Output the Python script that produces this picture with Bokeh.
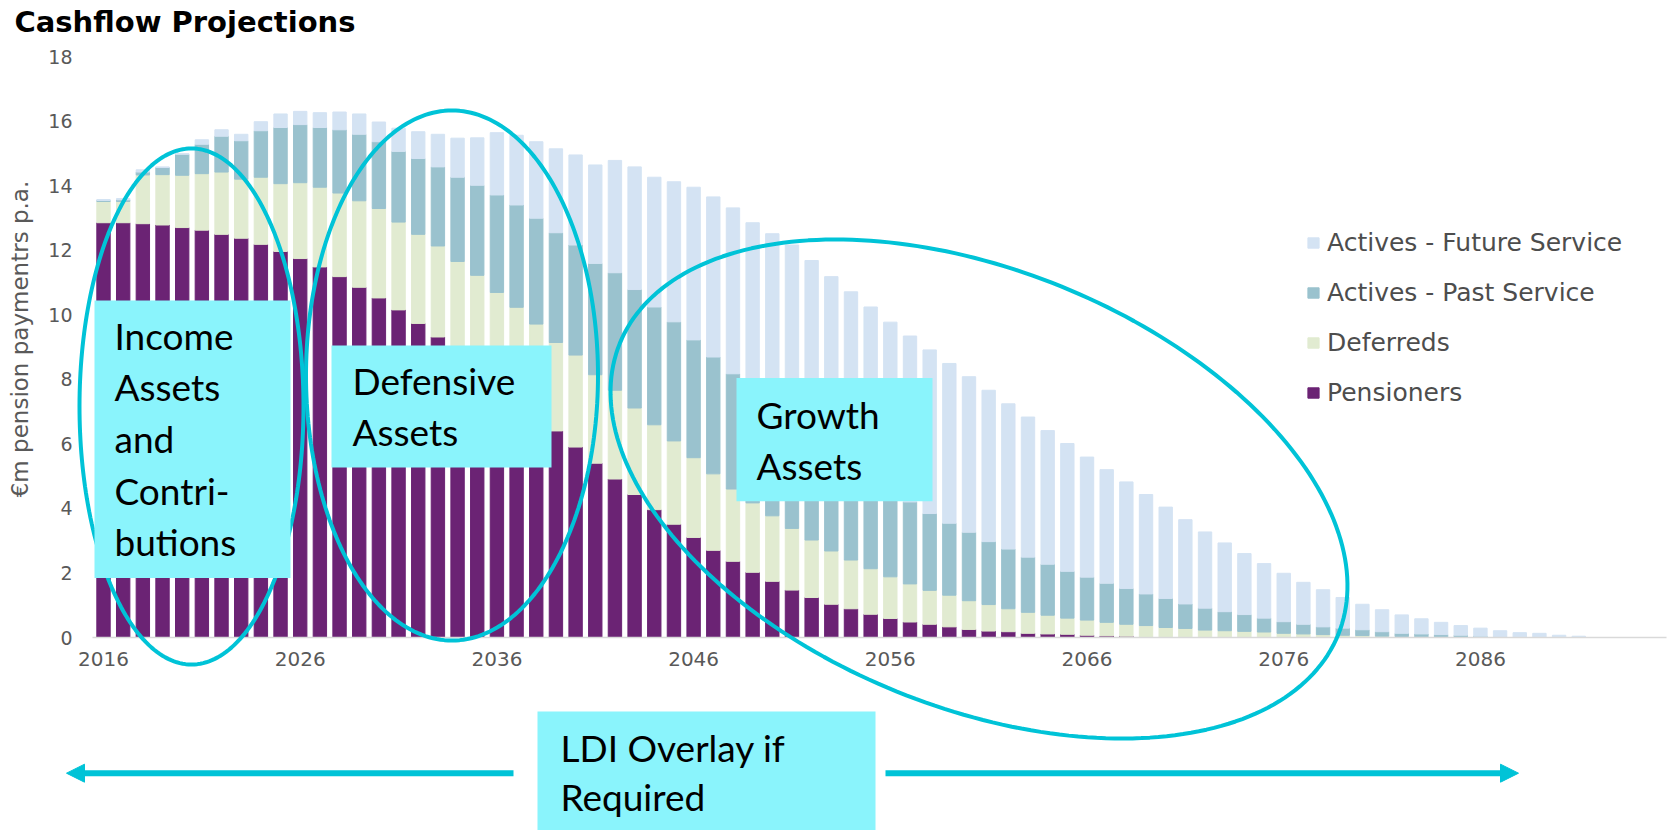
import math
from bokeh.plotting import figure
from bokeh.models import (ColumnDataSource, Range1d, FixedTicker, Legend, LegendItem,
                          Label, PolyAnnotation, Arrow, NormalHead)
from bokeh.embed import file_html
from bokeh.resources import INLINE

# ---------------- data ----------------
years = list(range(2016, 2092))
tick_years = [2016, 2026, 2036, 2046, 2056, 2066, 2076, 2086]
y_ticks = [0, 2, 4, 6, 8, 10, 12, 14, 16, 18]

pensioners = [12.85, 12.85, 12.82, 12.78, 12.70, 12.62, 12.49, 12.37, 12.18, 11.96,
              11.74, 11.48, 11.18, 10.85, 10.52, 10.15, 9.73, 9.31, 8.85, 8.40,
              7.90, 7.40, 6.90, 6.40, 5.90, 5.40, 4.91, 4.43, 3.96, 3.51,
              3.10, 2.70, 2.36, 2.02, 1.74, 1.47, 1.24, 1.03, 0.89, 0.72,
              0.59, 0.48, 0.41, 0.33, 0.25, 0.20, 0.18, 0.13, 0.11, 0.10,
              0.07, 0.05, 0.04, 0.01, 0, 0, 0, 0, 0, 0,
              0, 0, 0, 0, 0, 0, 0, 0, 0, 0,
              0, 0, 0, 0, 0, 0]
deferreds = [0.66, 0.66, 1.51, 1.56, 1.62, 1.75, 1.93, 1.83, 2.08, 2.10,
             2.35, 2.47, 2.59, 2.68, 2.77, 2.72, 2.76, 2.82, 2.80, 2.82,
             2.79, 2.83, 2.81, 2.74, 2.85, 2.74, 2.75, 2.68, 2.63, 2.58,
             2.47, 2.37, 2.24, 2.15, 2.03, 1.91, 1.78, 1.65, 1.51, 1.41,
             1.29, 1.18, 1.05, 0.98, 0.89, 0.82, 0.71, 0.65, 0.58, 0.50,
             0.47, 0.42, 0.37, 0.36, 0.31, 0.28, 0.23, 0.21, 0.19, 0.17,
             0.13, 0.11, 0.09, 0.07, 0.06, 0.04, 0.03, 0.02, 0.01, 0.01,
             0, 0, 0, 0, 0, 0]
actives_past = [0.03, 0.05, 0.09, 0.22, 0.65, 0.91, 1.11, 1.19, 1.44, 1.74,
                1.80, 1.85, 1.96, 2.06, 2.07, 2.19, 2.35, 2.45, 2.61, 2.79,
                3.02, 3.17, 3.28, 3.40, 3.41, 3.45, 3.64, 3.67, 3.65, 3.69,
                3.65, 3.62, 3.57, 3.53, 3.48, 3.42, 3.33, 3.22, 3.05, 2.87,
                2.72, 2.54, 2.38, 2.23, 2.12, 1.95, 1.85, 1.71, 1.58, 1.45,
                1.33, 1.21, 1.11, 0.98, 0.90, 0.76, 0.68, 0.59, 0.52, 0.43,
                0.36, 0.30, 0.24, 0.22, 0.18, 0.14, 0.10, 0.09, 0.08, 0.06,
                0.04, 0.02, 0.01, 0, 0, 0]
actives_future = [0.03, 0.04, 0.07, 0.02, 0.02, 0.14, 0.20, 0.20, 0.28, 0.42,
                  0.41, 0.46, 0.55, 0.63, 0.61, 0.72, 0.83, 1.01, 1.21, 1.47,
                  1.93, 2.16, 2.37, 2.60, 2.79, 3.05, 3.48, 3.80, 4.02, 4.34,
                  4.73, 4.96, 5.14, 5.15, 5.26, 5.36, 5.33, 5.28, 5.26, 5.24,
                  5.17, 5.14, 5.07, 4.95, 4.82, 4.69, 4.50, 4.34, 4.14, 3.96,
                  3.72, 3.52, 3.30, 3.08, 2.83, 2.61, 2.36, 2.13, 1.89, 1.69,
                  1.50, 1.30, 1.15, 0.95, 0.79, 0.68, 0.57, 0.47, 0.38, 0.30,
                  0.25, 0.19, 0.14, 0.13, 0.07, 0.04]

series_keys = ["pensioners", "deferreds", "actives_past", "actives_future"]
series_names = ["Pensioners", "Deferreds", "Actives - Past Service", "Actives - Future Service"]
series_colors = ["#6B2374", "#E1EBD1", "#9AC2CE", "#D4E3F3"]

# ---------------- layout constants ----------------
W, H = 1673, 830
TOP = 40                      # height of the title band above the frame
CL, CR, CT, CB = 92, 1666, 56, 637   # chart area (pixels)
X0, X1 = 2015.44, 2095.46            # x extent of the chart area
Y0, Y1 = 0, 18
PPX = (CR - CL) / (X1 - X0)
PPY = (CB - CT) / (Y1 - Y0)
CYAN = "#00C3D7"
BOXC = "#8AF4FC"
GREY = "#595959"
LABEL_SHIFT = 14              # Label anchor correction (px)


def dx(px):
    return X0 + (px - CL) / PPX


def dy(py):
    return Y0 + (CB - py) / PPY


src = ColumnDataSource(dict(year=years, pensioners=pensioners, deferreds=deferreds,
                            actives_past=actives_past, actives_future=actives_future))

p = figure(width=W, height=H, x_range=Range1d(dx(0), dx(W)), y_range=Range1d(dy(H), dy(TOP)),
           output_backend="svg", toolbar_location=None,
           min_border=0, min_border_left=0, min_border_right=0,
           min_border_top=TOP, min_border_bottom=0)
p.outline_line_color = None
p.grid.visible = False
p.background_fill_color = "white"

renderers = p.vbar_stack(series_keys, x="year", width=0.68, color=series_colors, source=src)

# axes (drawn inside the frame at fixed locations)
p.xaxis.fixed_location = Y0
p.xaxis.bounds = (X0, X1)
p.xaxis.ticker = FixedTicker(ticks=tick_years)
p.xaxis.axis_line_color = "#D9D9D9"
p.xaxis.axis_line_width = 1.5
p.xaxis.major_tick_line_color = None
p.xaxis.minor_tick_line_color = None
p.xaxis.major_label_text_font = "DejaVu Sans"
p.xaxis.major_label_text_font_size = "20px"
p.xaxis.major_label_text_color = GREY
p.xaxis.major_label_standoff = 8

p.yaxis.fixed_location = X0
p.yaxis.bounds = (0, 19.05)
p.yaxis.ticker = FixedTicker(ticks=y_ticks)
p.yaxis.axis_line_color = None
p.yaxis.major_tick_line_color = None
p.yaxis.minor_tick_line_color = None
p.yaxis.major_label_text_font = "DejaVu Sans"
p.yaxis.major_label_text_font_size = "19px"
p.yaxis.major_label_text_color = GREY
p.yaxis.major_label_standoff = 14
p.yaxis.axis_label = "€m pension paymentrs p.a."
p.yaxis.axis_label_text_font = "DejaVu Sans"
p.yaxis.axis_label_text_font_size = "23px"
p.yaxis.axis_label_text_font_style = "normal"
p.yaxis.axis_label_text_color = GREY
p.yaxis.axis_label_standoff = 12

# title
p.title.text = "Cashflow Projections"
p.title.text_font = "DejaVu Sans"
p.title.text_font_size = "29px"
p.title.text_font_style = "bold"
p.title.text_color = "black"
p.title.align = "left"
p.title.offset = 14
p.title.standoff = 4

# legend
legend = Legend(items=[LegendItem(label=series_names[i], renderers=[renderers[i]]) for i in [3, 2, 1, 0]],
                location=(1306, H - 407.3), orientation="vertical",
                glyph_width=14, glyph_height=13, label_standoff=7, spacing=21,
                padding=0, margin=0, border_line_alpha=0, background_fill_alpha=0,
                label_text_font="DejaVu Sans", label_text_font_size="25px",
                label_text_color="#4D4D4D")
p.add_layout(legend)


# ---------------- annotations ----------------
def ellipse(cx, cy, a, b, theta_deg, n=240):
    t = math.radians(theta_deg)
    xs, ys = [], []
    for k in range(n):
        u = 2 * math.pi * k / n
        px = cx + a * math.cos(u) * math.cos(t) - b * math.sin(u) * math.sin(t)
        py = cy + a * math.cos(u) * math.sin(t) + b * math.sin(u) * math.cos(t)
        xs.append(dx(px))
        ys.append(dy(py))
    return xs, ys


for (cx, cy, a, b, th) in [(191, 406, 112, 258, 0),
                           (451.5, 375, 146, 265, 0),
                           (978.5, 488.5, 387.6, 218.6, 22.07)]:
    exs, eys = ellipse(cx, cy, a, b, th)
    p.add_layout(PolyAnnotation(xs=exs, ys=eys, fill_alpha=0, line_color=CYAN,
                                line_alpha=1, line_width=4))


def box(l, r, t, b):
    p.add_layout(PolyAnnotation(xs=[dx(l), dx(r), dx(r), dx(l)], ys=[dy(t), dy(t), dy(b), dy(b)],
                                fill_color=BOXC, fill_alpha=1, line_alpha=0))


box(94, 290, 300, 577.5)
box(331, 551, 345, 467)
box(736, 932, 377.5, 500.7)
box(537, 875, 711, 830)


def lines(x, baselines, texts):
    for yb, tx in zip(baselines, texts):
        p.add_layout(Label(x=dx(x), y=dy(yb - LABEL_SHIFT), text=tx, text_font="Lato",
                           text_font_size="37px", text_baseline="alphabetic", text_color="black"))


lines(114, [349, 400, 452, 504, 555], ["Income", "Assets", "and", "Contri-", "butions"])
lines(352, [394, 445], ["Defensive", "Assets"])
lines(756, [427.5, 478.6], ["Growth", "Assets"])
lines(560, [761, 810], ["LDI Overlay if", "Required"])

for (xs_, xe_) in [(513, 66), (885, 1518)]:
    p.add_layout(Arrow(end=NormalHead(size=18, fill_color=CYAN, line_color=CYAN, line_width=1),
                       x_start=dx(xs_), y_start=dy(772.7), x_end=dx(xe_), y_end=dy(772.7),
                       line_color=CYAN, line_width=6))

open("out.html", "w").write(file_html(p, INLINE))
